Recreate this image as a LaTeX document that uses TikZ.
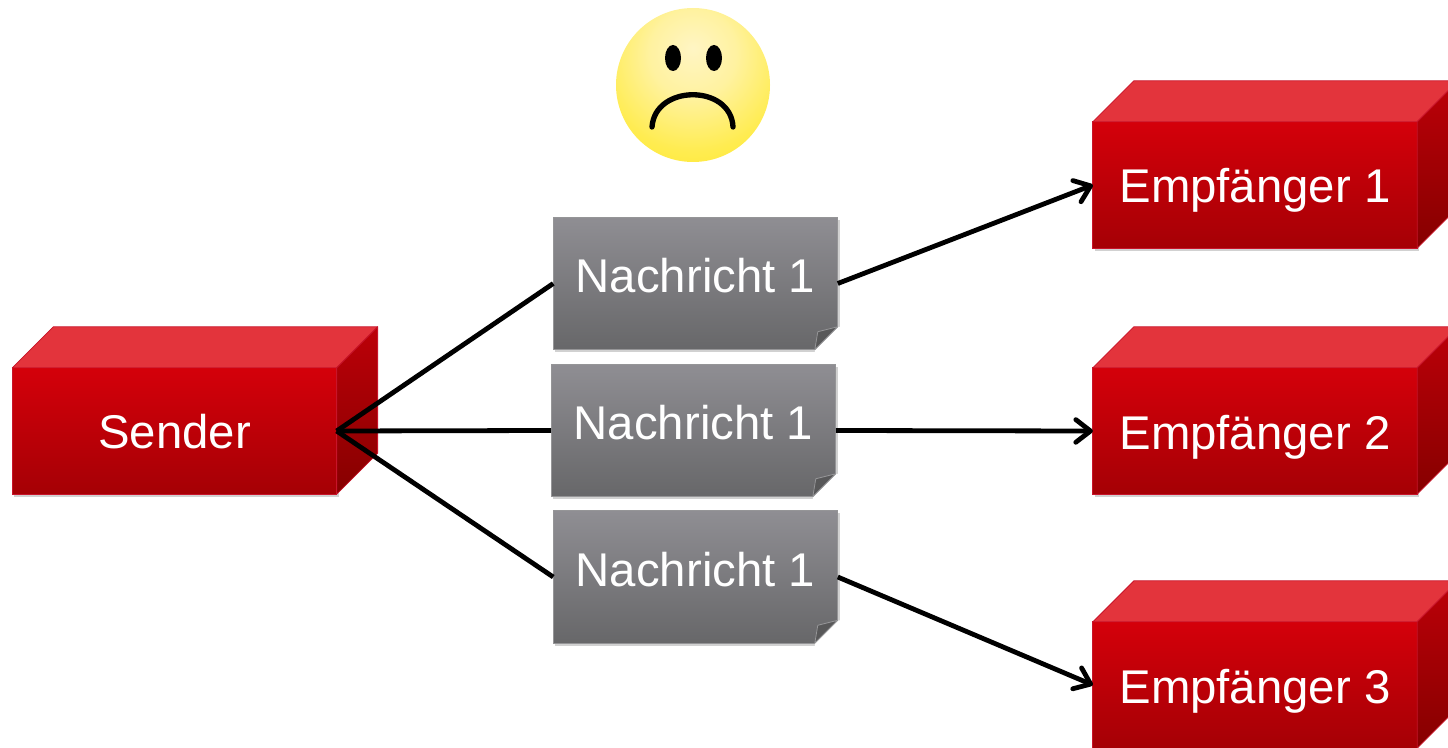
\documentclass[tikz,border=0pt]{standalone}
\usepackage{fontspec}
\setmainfont{Liberation Sans}
\usetikzlibrary{calc,arrows.meta,shadows}
\definecolor{frontTop}{HTML}{D4000A}
\definecolor{frontBot}{HTML}{A50005}
\definecolor{sideTop}{HTML}{BC0008}
\definecolor{sideBot}{HTML}{860000}
\definecolor{topFace}{HTML}{E3343C}
\definecolor{edgeRed}{HTML}{C8142A}
\definecolor{noteTop}{HTML}{8F8E93}
\definecolor{noteBot}{HTML}{676769}
\definecolor{noteEdge}{HTML}{959597}
\definecolor{faceA}{HTML}{FFF5C4}
\definecolor{faceB}{HTML}{FFF2A0}
\definecolor{faceC}{HTML}{FFEC50}
\definecolor{faceD}{HTML}{FFE828}
\definecolor{faceE}{HTML}{FFDE00}
\pgfdeclareradialshading{sadface}{\pgfpoint{0bp}{12bp}}{%
	color(0bp)=(faceA);
	color(14bp)=(faceB);
	color(30bp)=(faceC);
	color(43bp)=(faceD);
	color(50bp)=(faceE);
	color(100bp)=(faceE)}
\tikzset{
	block/.style={rectangle,draw=edgeRed,line width=.6pt,top color=frontTop,bottom color=frontBot,
		text=white,inner sep=0pt,outer sep=0pt,minimum width=243.2pt,minimum height=94.8pt,
		font=\fontsize{35.5}{42}\selectfont,
		drop shadow={shadow xshift=1.5pt,shadow yshift=-2pt,opacity=.18,fill=black}},
	blocklabel/.style={text height=27pt,text depth=0pt},
	topside/.style={fill=topFace,draw=edgeRed,line width=.6pt,line join=round},
	rightside/.style={top color=sideTop,bottom color=sideBot,draw=edgeRed,line width=.6pt,line join=round},
	note/.style={rectangle,draw=noteEdge,line width=.6pt,top color=noteTop,bottom color=noteBot,
		text=white,inner sep=0pt,outer sep=0pt,minimum width=213.4pt,minimum height=99.4pt,
		font=\fontsize{35.5}{42}\selectfont,text height=21.5pt,text depth=8pt,
		drop shadow={shadow xshift=1.5pt,shadow yshift=-2pt,opacity=.18,fill=black}},
	fold/.style={fill=noteBot!85!black,draw=noteEdge,line width=.6pt,line join=round},
	link/.style={->,line width=3.6pt}
}
\begin{document}
\begin{tikzpicture}[x=.75pt,y=-.75pt,>={Straight Barb[length=11pt,width=17pt,round]}]
	\useasboundingbox (0,0) rectangle (1448,748);
	\clip (0,0) rectangle (1448,748);
	% blocks
	\node (S) at (174.5,431) [block,blocklabel,text height=25.5pt] {Sender};
	\node (E1) at (1255,185) [block,blocklabel] {Empf\"anger 1};
	\node (E2) at (1255,431) [block,blocklabel] {Empf\"anger 2};
	\node (E3) at (1255,685) [block,blocklabel] {Empf\"anger 3};
	\draw [topside] (S.north west) -- ($(S.north west)+(41,-41)$) -- ($(S.north east)+(41,-41)$) -- (S.north east) -- cycle;
	\draw [rightside] (S.north east) -- ($(S.north east)+(41,-41)$) -- ($(S.south east)+(41,-41)$) -- (S.south east) -- cycle;
	\draw [topside] (E1.north west) -- ($(E1.north west)+(41,-41)$) -- ($(E1.north east)+(41,-41)$) -- (E1.north east) -- cycle;
	\draw [rightside] (E1.north east) -- ($(E1.north east)+(41,-41)$) -- ($(E1.south east)+(41,-41)$) -- (E1.south east) -- cycle;
	\draw [topside] (E2.north west) -- ($(E2.north west)+(41,-41)$) -- ($(E2.north east)+(41,-41)$) -- (E2.north east) -- cycle;
	\draw [rightside] (E2.north east) -- ($(E2.north east)+(41,-41)$) -- ($(E2.south east)+(41,-41)$) -- (E2.south east) -- cycle;
	\draw [topside] (E3.north west) -- ($(E3.north west)+(41,-41)$) -- ($(E3.north east)+(41,-41)$) -- (E3.north east) -- cycle;
	\draw [rightside] (E3.north east) -- ($(E3.north east)+(41,-41)$) -- ($(E3.south east)+(41,-41)$) -- (E3.south east) -- cycle;
	% messages
	\node (N1) at (695.5,283.5) [note] {Nachricht 1};
	\node (N2) at (693.5,430.5) [note] {Nachricht 1};
	\node (N3) at (695.5,577) [note] {Nachricht 1};
	\fill [white] ($(N1.south east)+(3,4)$) -- ($(N1.south east)+(-23,4)$) -- ($(N1.south east)+(-23,0)$) -- ($(N1.south east)+(0,-23)$) -- ($(N1.south east)+(3,-23)$) -- cycle;
	\draw [fold] ($(N1.south east)+(-23,0)$) -- ($(N1.south east)+(0,-23)$) -- ($(N1.south east)+(-20,-18)$) -- cycle;
	\fill [white] ($(N2.south east)+(3,4)$) -- ($(N2.south east)+(-23,4)$) -- ($(N2.south east)+(-23,0)$) -- ($(N2.south east)+(0,-23)$) -- ($(N2.south east)+(3,-23)$) -- cycle;
	\draw [fold] ($(N2.south east)+(-23,0)$) -- ($(N2.south east)+(0,-23)$) -- ($(N2.south east)+(-20,-18)$) -- cycle;
	\fill [white] ($(N3.south east)+(3,4)$) -- ($(N3.south east)+(-23,4)$) -- ($(N3.south east)+(-23,0)$) -- ($(N3.south east)+(0,-23)$) -- ($(N3.south east)+(3,-23)$) -- cycle;
	\draw [fold] ($(N3.south east)+(-23,0)$) -- ($(N3.south east)+(0,-23)$) -- ($(N3.south east)+(-20,-18)$) -- cycle;
	% connectors
	\draw [line width=3.6pt] (S.east) -- (N1.west);
	\draw [line width=3.6pt] (S.east) -- (N2.west);
	\draw [line width=3.6pt] (S.east) -- (N3.west);
	\draw [link] (N1.east) -- (E1.west);
	\draw [link] (N2.east) -- (E2.west);
	\draw [link] (N3.east) -- (E3.west);
	% smiley
	\node (F) at (693,85) [circle,minimum size=115.5pt,inner sep=0pt,shading=sadface] {};
	\fill ($(F)+(-20,-27)$) ellipse (8 and 13);
	\fill ($(F)+(21,-27)$) ellipse (8 and 13);
	\draw [line width=4pt,line cap=round] ($(F)+(-41,42)$) .. controls ($(F)+(-38,-1)$) and ($(F)+(38,-1)$) .. ($(F)+(40,42)$);
\end{tikzpicture}
\end{document}
